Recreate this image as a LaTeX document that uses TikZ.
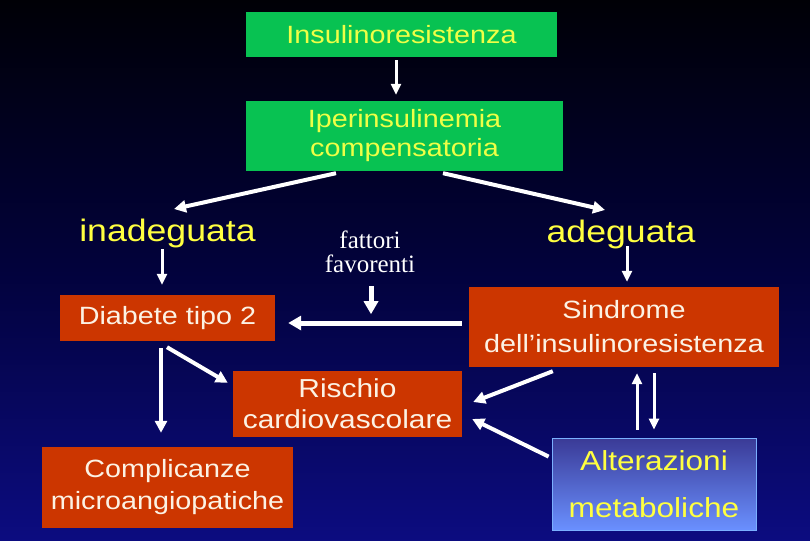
\documentclass[tikz,border=0pt]{standalone}
\usepackage{fontspec}
\setmainfont{Liberation Sans}[FakeStretch=1.15]
\newfontfamily\serifft{Liberation Serif}
\usetikzlibrary{arrows.meta,calc}
\definecolor{bgtop}{RGB}{0,0,6}
\definecolor{bgmid}{RGB}{2,2,60}
\definecolor{bgbot}{RGB}{12,12,128}
\definecolor{boxgreen}{RGB}{8,194,82}
\definecolor{gtext}{RGB}{238,255,70}
\definecolor{boxred}{RGB}{204,54,0}
\definecolor{rtext}{RGB}{252,242,228}
\definecolor{ytext}{RGB}{255,255,64}
\definecolor{alttop}{RGB}{58,58,150}
\definecolor{altbot}{RGB}{106,144,255}
\definecolor{altborder}{RGB}{122,176,255}
\begin{document}
\begin{tikzpicture}[x=1pt,y=-1pt,
  gbox/.style={fill=boxgreen, text=gtext, inner sep=0pt, align=center},
  rbox/.style={fill=boxred, text=rtext, inner sep=0pt, align=center},
  ytxt/.style={text=ytext, inner sep=0pt, font=\fontsize{31}{36}\selectfont},
  arr/.style={draw=white, line width=4pt, -{Triangle[length=12pt,width=12pt]}},
  thinarr/.style={draw=white, line width=3pt, -{Triangle[length=11pt,width=10pt]}},
  thickarr/.style={draw=white, line width=5pt, -{Triangle[length=13pt,width=14pt]}}]
% background
\shade[top color=bgtop, bottom color=bgbot, middle color=bgmid] (0,0) rectangle (810,540);
\useasboundingbox (0,0) rectangle (810,540);

% boxes
\node[gbox, minimum width=311pt, minimum height=45pt, font=\fontsize{25}{29}\selectfont] (ins) at (401.5,34.5) {Insulinoresistenza};
\node[gbox, minimum width=317pt, minimum height=70pt, font=\fontsize{25}{29}\selectfont] (iper) at (404.5,136) {Iperinsulinemia\\compensatoria};
\node[ytxt, anchor=base] (inad) at (167.5,241) {inadeguata};
\node[ytxt, anchor=base] (adeg) at (621,242) {adeguata};
\node[text=white, inner sep=0pt, align=center, anchor=north, font=\serifft\fontsize{25}{24}\selectfont] (fatt) at (370,231) {fattori\\favorenti};
\node[rbox, minimum width=215pt, minimum height=46pt, font=\fontsize{25}{30}\selectfont] (diab) at (167.5,318) {Diabete tipo 2};
\node[rbox, minimum width=310pt, minimum height=80pt, font=\fontsize{25}{34}\selectfont] (sind) at (624,327) {Sindrome\\dell’insulinoresistenza};
\node[rbox, minimum width=229pt, minimum height=66pt, font=\fontsize{26}{31}\selectfont] (risc) at (347.5,404) {Rischio\\cardiovascolare};
\node[rbox, minimum width=251pt, minimum height=81pt, font=\fontsize{25}{32}\selectfont] (comp) at (167.5,487.5) {Complicanze\\microangiopatiche};
\node[draw=altborder, line width=0.8pt, top color=alttop, bottom color=altbot, text=ytext, inner sep=0pt, align=center, minimum width=204pt, minimum height=92pt, font=\fontsize{27.5}{47}\selectfont] (alt) at (654,484) {Alterazioni\\metaboliche};

% connectors
\draw[thinarr] ($(ins.south)+(-5.5,3)$) -- ($(iper.north)+(-8.5,-6)$);
\draw[arr] ($(iper.south)+(-68.5,2)$) -- ($(inad.base)+(6.5,-32)$);
\draw[arr] ($(iper.south)+(38.5,2)$) -- ($(adeg.base)+(-16,-32)$);
\draw[thinarr] ($(inad.base)+(-5.5,8)$) -- ($(diab.north)+(-5.5,-10)$);
\draw[thinarr] ($(adeg.base)+(6,4)$) -- ($(sind.north)+(3,-5)$);
\draw[thickarr] ($(fatt.south)+(1,13)$) -- ($(fatt.south)+(1,41)$);
\draw[thickarr] ($(sind.west)+(-7,-4)$) -- ($(diab.east)+(13,5)$);
\draw[arr] ($(diab.south)+(-6.5,7)$) -- ($(comp.north)+(-6.5,-14)$);
\draw[arr] ($(diab.south)+(-0.5,6)$) -- ($(risc.north west)+(-5,12)$);
\draw[arr] ($(sind.south west)+(84,4)$) -- ($(risc.east)+(11,-2)$);
\draw[arr] ($(alt.north west)+(-3,19)$) -- ($(risc.east)+(10,15)$);
\draw[thinarr] ($(alt.north)+(-17,-8)$) -- ($(sind.south)+(13,6)$);
\draw[thinarr] ($(sind.south)+(30,6)$) -- ($(alt.north)+(0,-8)$);
\end{tikzpicture}
\end{document}
